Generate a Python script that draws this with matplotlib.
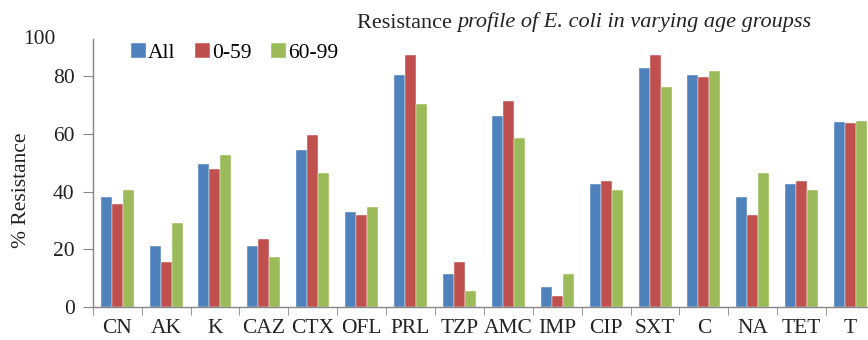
import matplotlib
matplotlib.use("Agg")
import matplotlib.pyplot as plt
import numpy as np

# antibiotic categories and resistance (%) per age group
categories = ["CN", "AK", "K", "CAZ", "CTX", "OFL", "PRL", "TZP",
              "AMC", "IMP", "CIP", "SXT", "C", "NA", "TET", "T"]
all_ages = [38, 21, 49.6, 21, 54.4, 33, 80.5, 11.5,
            66.4, 6.7, 42.7, 82.8, 80.5, 38, 42.7, 64.1]
age_0_59 = [35.6, 15.7, 47.8, 23.5, 59.8, 31.8, 87.5, 15.7,
            71.5, 3.6, 43.8, 87.5, 79.7, 31.7, 43.8, 63.8]
age_60_99 = [40.6, 29, 52.8, 17.3, 46.6, 34.8, 70.4, 5.6,
             58.7, 11.4, 40.6, 76.2, 82, 46.5, 40.6, 64.5]
series_names = ["All", "0-59", "60-99"]
colors = ["#4F81BD", "#C0504D", "#9BBB59"]

plt.rcParams["font.family"] = ["Liberation Serif", "DejaVu Serif"]

fig = plt.figure(figsize=(8.68, 3.4), dpi=100)
ax = fig.add_axes([92.7 / 868, 1 - 306.7 / 340, 782.4 / 868, (306.7 - 39) / 340])

x = np.arange(len(categories))
w = 0.225
for i, (vals, name, col) in enumerate(zip([all_ages, age_0_59, age_60_99], series_names, colors)):
    ax.bar(x + (i - 1) * w, vals, width=w, color=col, label=name,
           edgecolor="white", linewidth=0.3)

ax.set_xlim(-0.5, len(categories) - 0.5)
ax.set_ylim(0, 93)
ax.set_yticks([0, 20, 40, 60, 80])
ax.set_xticks(x)
ax.set_xticklabels(categories)
ax.set_xticks(np.arange(len(categories) + 1) - 0.5, minor=True)
ax.tick_params(axis="x", which="major", length=0, pad=9, labelsize=15.5, colors="#222222")
ax.tick_params(axis="x", which="minor", length=6, color="#868686", direction="out")
ax.tick_params(axis="y", length=7, color="#868686", labelsize=15.5, pad=6, labelcolor="#222222")

for s in ["top", "right"]:
    ax.spines[s].set_visible(False)
for s in ["left", "bottom"]:
    ax.spines[s].set_color("#868686")
    ax.spines[s].set_linewidth(1.0)

fig.text(39 / 868, 1 - 40 / 340, "100", fontsize=15.5, ha="center", va="center", color="#222222")
fig.text(22 / 868, 1 - 190 / 340, "% Resistance", fontsize=15.5, rotation=90,
         ha="center", va="center", color="#222222")

# title: plain first word, italic remainder
t1 = fig.text(357 / 868, 1 - 23 / 340, "Resistance ", fontsize=16, ha="left", va="center", color="#222222")
ax.annotate("profile of E. coli in varying age groupss", xy=(1, 0), xycoords=t1,
            ha="left", va="bottom", fontsize=16, style="italic", color="#222222",
            annotation_clip=False)

ax.legend(loc="upper left", bbox_to_anchor=(122 / 868, 1 - 34 / 340), bbox_transform=fig.transFigure,
          ncol=3, frameon=False, fontsize=15.5, handlelength=0.7, handleheight=0.7,
          handletextpad=0.1, columnspacing=0.9, borderaxespad=0)

fig.savefig("out.png", dpi=100)
